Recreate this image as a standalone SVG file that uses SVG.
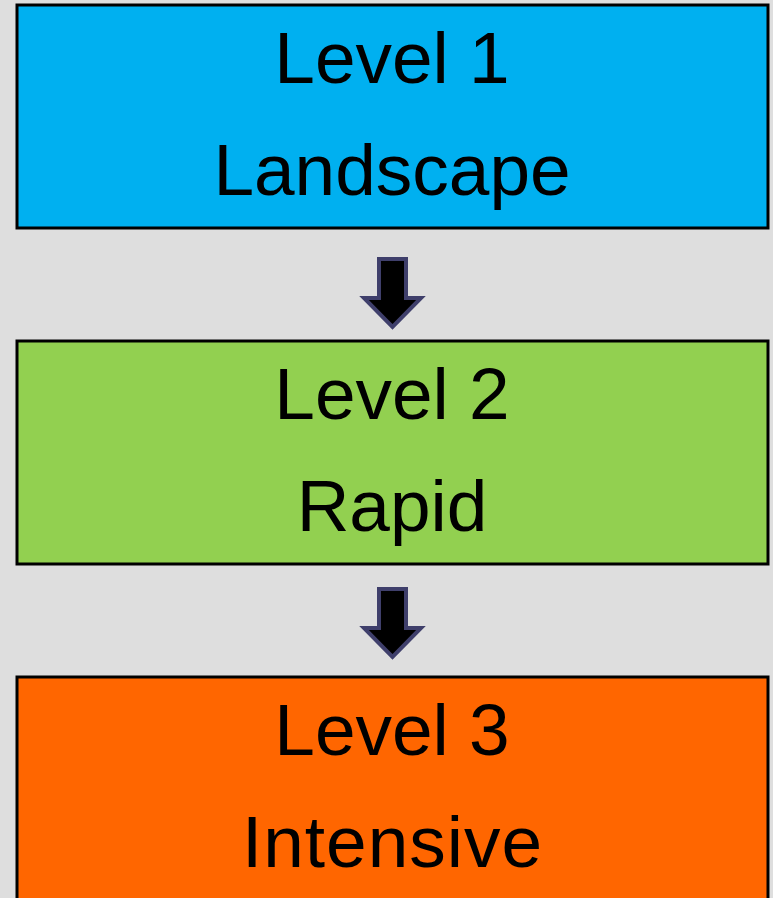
<svg xmlns="http://www.w3.org/2000/svg" width="773" height="898" viewBox="0 0 773 898">
<style>
.box{stroke:#000;stroke-width:3}
.t{font-family:"Liberation Sans",Arial,sans-serif;font-size:73px;fill:#000;text-anchor:middle}
.arr{fill:#000;stroke:#3f3f6b;stroke-width:4;stroke-linejoin:miter}
</style>
<rect width="773" height="898" fill="#dedede"/>
<g id="level1">
<rect class="box" x="17" y="5" width="751" height="223" fill="#00b0f0"/>
<text class="t" x="392" y="83">Level 1</text>
<text class="t" x="392" y="195">Landscape</text>
</g>
<g id="level2">
<rect class="box" x="17" y="341" width="751" height="223" fill="#92d050"/>
<text class="t" x="392" y="419">Level 2</text>
<text class="t" x="392" y="531">Rapid</text>
</g>
<g id="level3">
<rect class="box" x="17" y="677" width="751" height="240" fill="#ff6600"/>
<text class="t" x="392" y="755">Level 3</text>
<text class="t" x="392" y="867" textLength="300">Intensive</text>
</g>
<g id="connectors">
<path class="arr" d="M379,259 H406 V298 H421 L392.5,327 L364,298 H379 Z"/>
<path class="arr" d="M379,589 H406 V628 H421 L392.5,657 L364,628 H379 Z"/>
</g>
</svg>
